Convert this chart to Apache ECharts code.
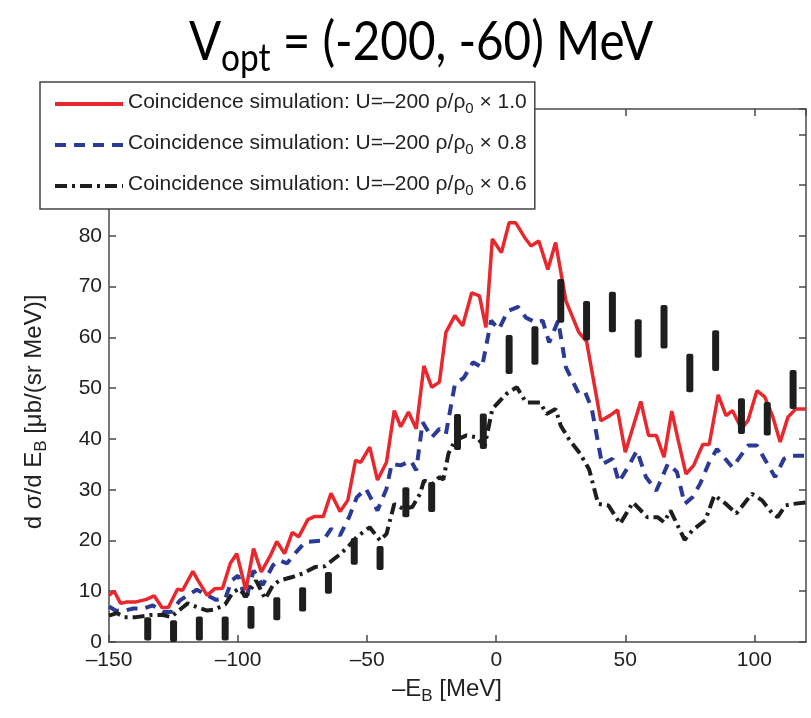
<!DOCTYPE html>
<html>
<head>
<meta charset="utf-8">
<title>Vopt chart</title>
<script src="https://cdn.jsdelivr.net/npm/echarts@6.0.0/dist/echarts.min.js"></script>
<style>
  html, body { margin: 0; padding: 0; background: #fff; }
  #chart { width: 811px; height: 718px; }
</style>
</head>
<body>
<div id="chart"></div>
<script>
// simulation curves, [ -E_B , d sigma / d E_B ]
const redPts = [
  [-150, 9.2], [-148, 10.0], [-145.5, 7.6], [-143, 7.9], [-139.5, 7.9], [-135.5, 8.4], [-132.5, 9.1],
  [-129.5, 6.8], [-127, 6.8], [-123.5, 10.4], [-121.5, 10.2], [-117.5, 13.9], [-115.5, 12.1], [-112, 9.2],
  [-109, 10.5], [-106, 10.6], [-103, 15.5], [-100.5, 17.4], [-97, 10.2], [-94, 18.4], [-91, 13.8],
  [-87.5, 17.0], [-85, 19.8], [-82, 17.4], [-79, 21.6], [-76.5, 20.7], [-73, 24.1], [-70.5, 24.7],
  [-67, 24.7], [-64, 29.3], [-60.5, 25.7], [-57.5, 27.9], [-54.5, 35.8], [-52.5, 35.4], [-49, 38.4],
  [-46, 31.9], [-42.5, 35.4], [-39.5, 45.6], [-37, 42.4], [-34, 45.3], [-31, 42.0], [-28, 54.4],
  [-25, 50.2], [-22, 51.2], [-19.5, 61.0], [-16, 64.3], [-13, 62.3], [-9.5, 68.8], [-6.5, 68.2],
  [-4, 62.0], [-1.5, 79.4], [2, 76.7], [5, 82.6], [7.5, 82.6], [11, 79.7], [13.5, 78.0], [16.5, 79.0],
  [20, 73.4], [23, 78.7], [27, 67.2], [32, 61.0], [35, 59.2], [40.5, 43.6], [44, 44.6], [47, 45.7],
  [50, 37.4], [56, 47.4], [59, 40.7], [62, 40.7], [65, 36.4], [68, 45.5], [70.5, 39.7], [73.5, 33.1],
  [76.5, 34.8], [80, 38.9], [82.5, 38.9], [86, 48.7], [89, 44.6], [91.5, 45.6], [95, 42.0], [97.5, 43.6],
  [101, 49.5], [104, 48.3], [107, 44.6], [110, 39.4], [113, 44.3], [116, 45.9], [120, 45.9]
]
const bluePts = [
  [-150, 7.0], [-147.5, 6.2], [-144.5, 6.1], [-140.5, 6.6], [-136.5, 6.6], [-133, 7.2], [-129, 5.9],
  [-126, 5.9], [-122.5, 8.2], [-119.5, 9.2], [-116, 10.3], [-112, 9.2], [-108.5, 8.3], [-105, 8.5],
  [-102.5, 12.1], [-100, 13.1], [-97, 8.2], [-94, 14.1], [-90.5, 11.2], [-86.5, 15.1], [-84, 16.1],
  [-81, 15.5], [-77.5, 17.7], [-74, 19.7], [-67, 20.0], [-64, 22.3], [-60.5, 21.0], [-57, 24.6],
  [-54, 28.5], [-50.5, 30.2], [-46, 25.9], [-42.5, 30.2], [-40.5, 35.1], [-37, 34.8], [-33, 35.7],
  [-31, 33.8], [-28.5, 43.3], [-25, 40.3], [-22, 42.0], [-19.5, 41.0], [-16, 50.8], [-12.5, 52.1],
  [-9, 55.1], [-5.5, 54.1], [-2, 63.3], [1, 61.6], [4.5, 65.2], [8.5, 66.0], [11.5, 63.9], [15.5, 62.9],
  [18, 63.3], [20.5, 59.0], [24, 63.3], [27, 54.1], [32, 48.9], [34.5, 49.2], [37, 46.0], [41, 35.0],
  [45, 36.1], [47.5, 31.5], [51, 34.4], [54.5, 37.7], [58, 32.5], [62, 29.8], [66.5, 35.1], [70, 33.5],
  [73, 27.2], [76, 28.5], [79, 31.2], [82.5, 35.4], [85.5, 38.0], [91.5, 34.4], [97.5, 38.7],
  [101, 38.7], [108, 32.5], [111.5, 36.1], [114, 36.7], [120, 36.7]
]
const blackPts = [
  [-150, 5.2], [-147, 5.7], [-144, 4.9], [-139.5, 4.9], [-134, 5.3], [-129, 5.3], [-126, 4.9],
  [-122, 6.6], [-119.5, 7.6], [-116, 6.9], [-112, 6.2], [-109, 6.4], [-105, 7.4], [-102, 9.8],
  [-99.5, 10.5], [-97, 8.9], [-93, 12.1], [-89.5, 8.5], [-86.5, 11.2], [-84, 12.1], [-79, 12.8],
  [-75, 13.5], [-70, 14.8], [-66.5, 14.9], [-61, 17.1], [-57.5, 18.7], [-54, 20.7], [-49, 22.6],
  [-45, 20.0], [-42.5, 21.3], [-39.5, 27.2], [-36, 26.2], [-32.5, 26.6], [-29.5, 29.2], [-28, 31.8],
  [-24.5, 31.2], [-22, 32.5], [-20.5, 32.0], [-18.5, 37.1], [-16, 39.7], [-11.5, 40.7], [-7.5, 40.3],
  [-4.5, 38.5], [-1.5, 45.9], [4, 48.9], [8, 50.2], [11.5, 47.2], [17, 47.2], [19.5, 44.9], [23, 45.9],
  [25, 42.6], [28.5, 39.7], [32.5, 37.1], [36, 34.0], [39.5, 27.2], [43.5, 26.9], [48, 23.3],
  [53, 27.5], [58.5, 24.6], [62.5, 24.6], [65, 23.6], [67.5, 25.9], [73, 20.1], [76, 22.0], [81, 24.0],
  [84.5, 28.9], [89, 27.2], [93, 25.3], [99, 29.2], [103, 27.9], [107, 25.3], [109, 24.6], [112, 26.9],
  [115, 27.2], [120, 27.5]
]

// measured points with error bars
const barX  = [-135, -125, -115, -105, -95, -85, -75, -65, -55, -45, -35, -25, -15, -5, 5, 15, 25, 35, 45, 55, 65, 75, 85, 95, 105, 115]
const barLo = [0.3, 0, 0.3, 0.3, 2.6, 4.3, 6.0, 9.5, 15.2, 14.2, 24.6, 25.6, 37.8, 38.0, 52.8, 54.6, 62.9, 59.4, 61.0, 56.0, 57.8, 49.2, 53.4, 41.0, 40.7, 45.9]
const barHi = [4.9, 4.3, 5.0, 5.0, 7.1, 8.8, 10.8, 13.8, 20.5, 18.9, 30.5, 31.5, 44.9, 45.0, 60.5, 62.2, 71.5, 67.2, 69.0, 63.6, 66.4, 56.8, 61.4, 48.0, 47.3, 53.6]

const legendNames = ['x1.0', 'x0.8', 'x0.6']
const legendFactor = { 'x1.0': '1.0', 'x0.8': '0.8', 'x0.6': '0.6' }

const xTicks = { min: -150, max: 120, interval: 50 }
const yTicks = { min: 0, max: 105, interval: 10 }

const dash = (s) => String(s).replace('-', '\u2013')

const axisColor = '#4a4a4a'
const txtColor = '#222'
const font = 'Liberation Sans, Arial, sans-serif'

const chart = echarts.init(document.getElementById('chart'), null, { renderer: 'canvas' })

const barData = barX.map((x, i) => [x, barLo[i], barHi[i]])

// same frame on all four sides, ticks pointing in (matlab style)
const frameLine = { show: true, onZero: false, lineStyle: { color: axisColor, width: 1.5 } }
const frameTick = { show: true, inside: true, length: 7, lineStyle: { color: axisColor, width: 1.5 } }

const option = {
  animation: false,
  grid: { left: 109, right: 5, top: 109, bottom: 76, containLabel: false },
  legend: {
    data: legendNames,
    orient: 'vertical',
    left: 40,
    top: 82,
    padding: [10, 8, 11, 13],
    itemWidth: 68,
    itemHeight: 14,
    itemGap: 17,
    backgroundColor: '#fff',
    borderColor: '#444',
    borderWidth: 1.5,
    borderRadius: 0,
    selectedMode: false,
    itemStyle: { opacity: 0 },
    lineStyle: { width: 4 },
    formatter: (name) => '{a|Coincidence simulation: U=\u2013200 \u03c1/\u03c1}{s|0}{a| \u00d7 ' + legendFactor[name] + '}',
    textStyle: {
      color: txtColor,
      fontFamily: font,
      rich: {
        a: { fontSize: 21, fontFamily: font, color: txtColor, lineHeight: 24, verticalAlign: 'top' },
        s: { fontSize: 15, fontFamily: font, color: txtColor, lineHeight: 24, verticalAlign: 'bottom', padding: [9, 0, 0, 0] }
      }
    }
  },
  xAxis: [
    {
      type: 'value', position: 'bottom', ...xTicks,
      axisLine: frameLine, axisTick: frameTick,
      axisLabel: { showMaxLabel: false, margin: 8, fontSize: 21, fontFamily: font, color: txtColor, formatter: dash },
      splitLine: { show: false }
    },
    {
      type: 'value', position: 'top', ...xTicks,
      axisLine: frameLine, axisTick: frameTick,
      axisLabel: { show: false },
      splitLine: { show: false }
    }
  ],
  yAxis: [
    {
      type: 'value', position: 'left', ...yTicks,
      axisLine: frameLine, axisTick: frameTick,
      axisLabel: { showMaxLabel: false, margin: 7, fontSize: 21, fontFamily: font, color: txtColor },
      splitLine: { show: false }
    },
    {
      type: 'value', position: 'right', ...yTicks,
      axisLine: frameLine, axisTick: frameTick,
      axisLabel: { show: false },
      splitLine: { show: false }
    }
  ],
  series: [
    {
      name: 'x1.0', type: 'line', data: redPts, symbol: 'none', showSymbol: false,
      lineStyle: { color: '#e8282d', width: 3.5 }, itemStyle: { color: '#e8282d' }, z: 3
    },
    {
      name: 'x0.8', type: 'line', data: bluePts, symbol: 'none', showSymbol: false,
      lineStyle: { color: '#2b3a94', width: 4, type: [11, 8] }, itemStyle: { color: '#2b3a94' }, z: 2
    },
    {
      name: 'x0.6', type: 'line', data: blackPts, symbol: 'none', showSymbol: false,
      lineStyle: { color: '#1e1e1e', width: 4, type: [12, 5, 3, 5] }, itemStyle: { color: '#1e1e1e' }, z: 2
    },
    {
      // error bars of the data, drawn as thick black sticks
      type: 'custom',
      data: barData,
      z: 4,
      renderItem: (params, api) => {
        const top = api.coord([api.value(0), api.value(2)])
        const bot = api.coord([api.value(0), api.value(1)])
        return {
          type: 'rect',
          shape: { x: top[0] - 3.5, y: top[1], width: 7, height: bot[1] - top[1], r: 2 },
          style: { fill: '#1e1e1e' }
        }
      }
    }
  ],
  graphic: [
    {
      // title, Calibri-like so squeeze Lato a bit
      type: 'text', x: 421, y: 16, scaleX: 0.88,
      style: {
        text: '{m|V}{s|opt}{m| = (-200, -60) MeV}',
        textAlign: 'center',
        fill: '#000',
        rich: {
          m: { fontSize: 54, fontFamily: 'Lato, sans-serif', lineHeight: 62, verticalAlign: 'top', fill: '#000' },
          s: { fontSize: 38, fontFamily: 'Lato, sans-serif', lineHeight: 62, verticalAlign: 'bottom', padding: [30, 0, 0, 0], fill: '#000' }
        }
      }
    },
    {
      type: 'text', x: 447, y: 677,
      style: {
        text: '{m|\u2013E}{s|B}{m| [MeV]}',
        textAlign: 'center',
        fill: txtColor,
        rich: {
          m: { fontSize: 24, fontFamily: font, lineHeight: 28, verticalAlign: 'top', fill: txtColor },
          s: { fontSize: 17, fontFamily: font, lineHeight: 28, verticalAlign: 'bottom', padding: [10, 0, 0, 0], fill: txtColor }
        }
      }
    },
    {
      type: 'text', x: 22, y: 412, rotation: Math.PI / 2,
      style: {
        text: '{m|d \u03c3/d E}{s|B}{m| [\u03bcb/(sr MeV)]}',
        textAlign: 'center',
        fill: txtColor,
        rich: {
          m: { fontSize: 24, fontFamily: font, lineHeight: 28, verticalAlign: 'top', fill: txtColor },
          s: { fontSize: 17, fontFamily: font, lineHeight: 28, verticalAlign: 'bottom', padding: [10, 0, 0, 0], fill: txtColor }
        }
      }
    }
  ]
}

chart.setOption(option)
</script>
</body>
</html>
